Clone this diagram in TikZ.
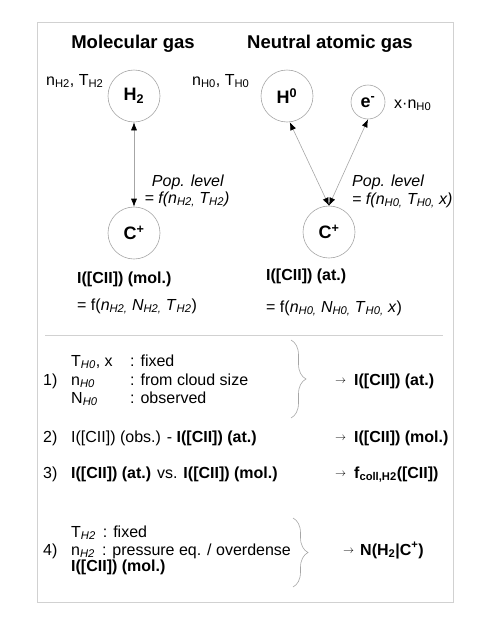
\documentclass[tikz,border=0pt]{standalone}
\usepackage{fontspec}
\setmainfont{Liberation Sans}
\usetikzlibrary{arrows.meta,decorations.pathreplacing}

\newcommand{\isub}[1]{\textsubscript{\itshape #1}}
\newcommand{\rsub}[1]{\textsubscript{#1}}
\newcommand{\yields}{$\scriptstyle\rightarrow$}

\begin{document}
\begin{tikzpicture}[x=1pt,y=-1pt,
  every node/.style={inner sep=0pt,font=\fontsize{16}{18}\selectfont},
  title/.style={font=\fontsize{18.5}{20}\selectfont\bfseries},
  species/.style={circle,draw=black!35,line width=0.6pt,minimum size=52pt,font=\fontsize{18}{20}\selectfont\bfseries},
  link/.style={black!35,line width=0.6pt,{Latex[length=8pt,width=6pt,color=black]}-{Latex[length=8pt,width=6pt,color=black]}},
  rule/.style={black!18,line width=0.8pt},
  brc/.style={black!35,line width=0.6pt,decorate,decoration={brace,amplitude=15pt}}]
\useasboundingbox (0,0) rectangle (491,635);
\draw[rule] (37,22) rectangle (453,602);

\node[title,anchor=base] (tmol) at (133,48) {Molecular gas};
\node[title,anchor=base] (tat) at (330,48) {Neutral atomic gas};

\node[species] (h2) at (134,96) {H\rsub{2}};
\node[species] (cpmol) at (134,233) {C\textsuperscript{+}};
\node[species] (h0) at (287,96) {H\textsuperscript{0}};
\node[species,minimum size=34pt] (elec) at (368,102) {e\textsuperscript{-}};
\node[species] (cpat) at (329,232) {C\textsuperscript{+}};

\draw[link] (h2) -- (cpmol);
\draw[link] (h0.-84) -- (cpat.north);
\draw[link] (elec.south) -- (cpat.north);

\node[anchor=base west] (nh2) at (46,85) {n\rsub{H2}, T\rsub{H2}};
\node[anchor=base west] (nh0) at (192,85) {n\rsub{H0}, T\rsub{H0}};
\node[anchor=base west] (ne) at (394,108) {x\textperiodcentered n\rsub{H0}};

\node[anchor=base] (popmol) at (188,186) {\textit{Pop. level}};
\node[anchor=base] (fpopmol) at (187,203) {\itshape = f(n\isub{H2,} T\isub{H2})};
\node[anchor=base west] (popat) at (352,186) {\textit{Pop. level}};
\node[anchor=base west] (fpopat) at (352,204) {\itshape = f(n\isub{H0,} T\isub{H0,} x)};

\node[anchor=base west] (imol) at (77,283) {\bfseries I([CII]) (mol.)};
\node[anchor=base west] (fmol) at (77,310) {= f(\textit{n}\isub{H2,} \textit{N}\isub{H2,} \textit{T}\isub{H2})};
\node[anchor=base west] (iat) at (266,280) {\bfseries I([CII]) (at.)};
\node[anchor=base west] (fat) at (266,312) {= f(\textit{n}\isub{H0,} \textit{N}\isub{H0,} \textit{T}\isub{H0,} \textit{x})};

\draw[rule] (45,335) -- (443,335);

% 1)
\node[anchor=base west] (s1) at (43,385) {1)};
\node[anchor=base west] (s1a) at (71,366) {T\isub{H0}, x};
\node[anchor=base west] (s1b) at (71,385) {n\isub{H0}};
\node[anchor=base west] (s1c) at (71,403) {N\isub{H0}};
\node[anchor=base west] (s1d) at (130,366) {: fixed};
\node[anchor=base west] (s1e) at (130,385) {: from cloud size};
\node[anchor=base west] (s1f) at (130,403) {: observed};
\coordinate (b1t) at (291,340);
\coordinate (b1b) at (291,418);
\draw[brc] (b1t) -- (b1b);
\node[anchor=base west] (a1) at (335,383) {\yields};
\node[anchor=base west] (r1) at (354,385) {\bfseries I([CII]) (at.)};

% 2)
\node[anchor=base west] (s2) at (43,442) {2)};
\node[anchor=base west] (s2a) at (71,442) {I([CII]) (obs.) - \textbf{I([CII]) (at.)}};
\node[anchor=base west] (a2) at (335,440) {\yields};
\node[anchor=base west] (r2) at (354,442) {\bfseries I([CII]) (mol.)};

% 3)
\node[anchor=base west] (s3) at (43,478) {3)};
\node[anchor=base west] (s3a) at (71,478) {\textbf{I([CII]) (at.)} vs. \textbf{I([CII]) (mol.)}};
\node[anchor=base west] (a3) at (335,476) {\yields};
\node[anchor=base west] (r3) at (354,478) {\bfseries f\rsub{coll,H2}([CII])};

% 4)
\node[anchor=base west] (s4) at (43,555) {4)};
\node[anchor=base west] (s4a) at (71,537) {T\isub{H2}\, : fixed};
\node[anchor=base west] (s4b) at (71,555) {n\isub{H2}\, : pressure eq. / overdense};
\node[anchor=base west] (s4c) at (71,571) {\bfseries I([CII]) (mol.)};
\coordinate (b4t) at (293,518);
\coordinate (b4b) at (293,587);
\draw[brc] (b4t) -- (b4b);
\node[anchor=base west] (a4) at (343,553) {\yields};
\node[anchor=base west] (r4) at (360,555) {\bfseries N(H\rsub{2}|C\textsuperscript{+})};
\end{tikzpicture}
\end{document}
